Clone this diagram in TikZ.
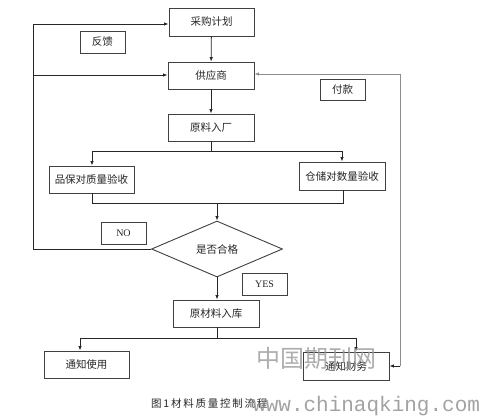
\documentclass[tikz,border=0pt]{standalone}
\usepackage{fontspec}
\newfontfamily\cjk{Noto Sans CJK SC}
\newfontfamily\wmono{Liberation Mono}
\newfontfamily\wser{Liberation Serif}
\usetikzlibrary{shapes.geometric,arrows.meta}
\begin{document}
\begin{tikzpicture}[x=1pt,y=-1pt,
  box/.style={draw=black!75,line width=0.9pt,rectangle,inner sep=0pt,font=\cjk\fontsize{10.5}{12}\selectfont,text=black!85},
  lbl/.style={box},
  conn/.style={line width=0.8pt,draw=black!85},
  arr/.style={conn,-{Latex[length=4.5pt,width=3.5pt]}}]
\useasboundingbox (0,0) rectangle (483,418);
\fill[white] (0,0) rectangle (483,418);
% boxes
\node[box,minimum width=85pt,minimum height=28pt] (cg) at (211.5,22) {采购计划};
\node[lbl,minimum width=45pt,minimum height=22pt] (fk) at (102.5,42) {反馈};
\node[box,minimum width=86pt,minimum height=27pt] (gys) at (211,75.5) {供应商};
\node[lbl,minimum width=45pt,minimum height=21pt] (fuk) at (342.5,89.5) {付款};
\node[box,minimum width=86pt,minimum height=27pt] (ylrc) at (211,127.5) {原料入厂};
\node[box,minimum width=85pt,minimum height=27pt] (pb) at (91.5,179.5) {品保对质量验收};
\node[box,minimum width=86pt,minimum height=28pt] (cc) at (342,176) {仓储对数量验收};
\node[lbl,minimum width=45pt,minimum height=22pt,font=\wser\fontsize{10}{12}\selectfont] (no) at (123.5,233) {NO};
\node[box,diamond,minimum width=131pt,minimum height=56pt] (dia) at (217,249) {是否合格};
\node[lbl,minimum width=45pt,minimum height=22pt,font=\wser\fontsize{10}{12}\selectfont] (yes) at (264.5,284) {YES};
\node[box,minimum width=86pt,minimum height=27pt] (ylrk) at (216,313.5) {原材料入库};
\node[box,minimum width=85pt,minimum height=27pt] (tzsy) at (86.5,364.5) {通知使用};
\node[box,minimum width=86pt,minimum height=28pt] (tzcw) at (346,366) {通知财务};
% coordinates
\coordinate (s1) at (211,151);
\coordinate (b1) at (92,151);
\coordinate (b2) at (342,151);
\coordinate (m1) at (92,203);
\coordinate (m2) at (343,203);
\coordinate (m0) at (217,203);
\coordinate (fl) at (33,249);
\coordinate (ft) at (33,24);
\coordinate (fm) at (33,75);
\coordinate (rt) at (400,74);
\coordinate (rb) at (400,366);
\coordinate (s2) at (217,338);
\coordinate (c1) at (80,338);
\coordinate (c2) at (356,338);
% connectors
\draw[arr] (cg) -- (gys);
\draw[arr] (gys) -- (ylrc);
\draw[conn] (ylrc.south) -- (s1);
\draw[conn] (b1) -- (b2);
\draw[arr] (b1) -- (b1 |- pb.north);
\draw[arr] (b2) -- (b2 |- cc.north);
\draw[conn] (m1 |- pb.south) -- (m1) -- (m2) -- (m2 |- cc.south);
\draw[arr] (m0) -- (dia.north);
\draw[conn] (dia.west) -- (fl) -- (ft);
\draw[arr] (ft) -- (ft -| cg.west);
\draw[arr] (fm) -- (fm -| gys.west);
\draw[arr,draw=black!45] (rb) -- (rt) -- (rt -| gys.east);
\draw[arr] (rb) -- (tzcw.east);
\draw[arr] (dia.south) -- (dia.south |- ylrk.north);
\draw[conn] (s2 |- ylrk.south) -- (s2);
\draw[conn] (c1) -- (c2);
\draw[arr] (c1) -- (c1 |- tzsy.north);
\draw[arr] (c2) -- (c2 |- tzcw.north);
% caption
\node[anchor=west,inner sep=0pt,font=\cjk\fontsize{10.5}{12}\selectfont,text=black!85] (cap) at (151,404) {图\,1\,材\,料\,质\,量\,控\,制\,流\,程};
% watermark
\node[anchor=west,inner sep=0pt,font=\cjk\fontsize{24}{26}\selectfont,text=black!40,opacity=0.8] (wm1) at (256,358) {中国期刊网};
\node[anchor=west,inner sep=0pt,font=\wmono\fontsize{21}{24}\selectfont,text=black!45,opacity=0.8] (wm2) at (253,406) {www.chinaqking.com};
\end{tikzpicture}
\end{document}
